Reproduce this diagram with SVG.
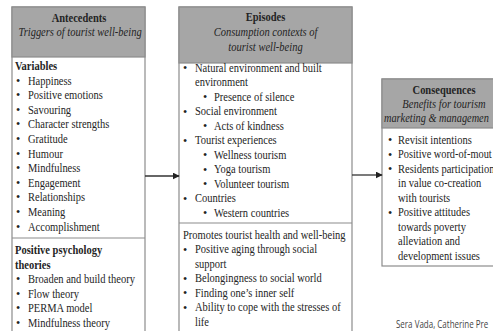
<svg xmlns="http://www.w3.org/2000/svg" width="493" height="331" viewBox="0 0 493 331">
<defs>
<style>
text{font-family:"Liberation Serif","Times New Roman",serif;font-size:12px;fill:#242424}
.l{transform-box:fill-box;transform-origin:0 50%;transform:scaleX(0.875)}
.c{text-anchor:middle;transform-box:fill-box;transform-origin:50% 50%;transform:scaleX(0.875)}
.b{font-weight:bold}
.i{font-style:italic}
.box{fill:#fff;stroke:#8c8c8c;stroke-width:1.2}
.hd{fill:#a6a6a6;stroke:#8c8c8c;stroke-width:1.2}
.sep{stroke:#8c8c8c;stroke-width:1.2}
.conn{stroke:#333;stroke-width:1.3;fill:none}
.cr{font-family:"Open Sans","Liberation Sans",sans-serif;font-size:10px;fill:#444;transform-box:fill-box;transform-origin:0 50%;transform:scaleX(0.8)}
.n{transform:scaleX(0.86)}
</style>
<marker id="ah" viewBox="0 0 10 10" refX="9" refY="5" markerWidth="7" markerHeight="7" markerUnits="userSpaceOnUse" orient="auto">
<path d="M0,0 L10,5 L0,10 Z" fill="#222"/>
</marker>
</defs>
<rect width="493" height="331" fill="#fff"/>

<g id="antecedents">
<rect class="box" x="12" y="7" width="133" height="330"/>
<rect class="hd" x="12" y="7" width="133" height="50"/>
<line class="sep" x1="12" y1="238" x2="145" y2="238"/>
<text class="c b" x="79" y="22">Antecedents</text>
<text class="c i" x="80" y="36">Triggers of tourist well-being</text>
<text class="l b" x="15" y="70">Variables</text>
<g>
<text x="16" y="84.6">•</text><text class="l" x="28" y="84.6">Happiness</text>
<text x="16" y="99.2">•</text><text class="l" x="28" y="99.2">Positive emotions</text>
<text x="16" y="113.8">•</text><text class="l" x="28" y="113.8">Savouring</text>
<text x="16" y="128.4">•</text><text class="l" x="28" y="128.4">Character strengths</text>
<text x="16" y="143">•</text><text class="l" x="28" y="143">Gratitude</text>
<text x="16" y="157.6">•</text><text class="l" x="28" y="157.6">Humour</text>
<text x="16" y="172.2">•</text><text class="l" x="28" y="172.2">Mindfulness</text>
<text x="16" y="186.8">•</text><text class="l" x="28" y="186.8">Engagement</text>
<text x="16" y="201.4">•</text><text class="l" x="28" y="201.4">Relationships</text>
<text x="16" y="216">•</text><text class="l" x="28" y="216">Meaning</text>
<text x="16" y="230.6">•</text><text class="l" x="28" y="230.6">Accomplishment</text>
</g>
<text class="l b" x="15" y="254">Positive psychology</text>
<text class="l b" x="15" y="268.6">theories</text>
<g>
<text x="16" y="283.2">•</text><text class="l" x="28" y="283.2">Broaden and build theory</text>
<text x="16" y="297.8">•</text><text class="l" x="28" y="297.8">Flow theory</text>
<text x="16" y="312.4">•</text><text class="l" x="28" y="312.4">PERMA model</text>
<text x="16" y="327">•</text><text class="l" x="28" y="327">Mindfulness theory</text>
</g>
</g>

<g id="episodes">
<rect class="box" x="179" y="7" width="173" height="330"/>
<rect class="hd" x="179" y="7" width="173" height="56"/>
<line class="sep" x1="179" y1="223" x2="352" y2="223"/>
<text class="c b" x="265.5" y="21">Episodes</text>
<text class="c i" x="265.5" y="36">Consumption contexts of</text>
<text class="c i" x="265.5" y="51">tourist well-being</text>
<text x="183" y="72">•</text><text class="l" x="195" y="72">Natural environment and built</text>
<text class="l" x="195" y="86.5">environment</text>
<text x="203" y="101">•</text><text class="l" x="214" y="101">Presence of silence</text>
<text x="183" y="115.5">•</text><text class="l" x="195" y="115.5">Social environment</text>
<text x="203" y="130">•</text><text class="l" x="214" y="130">Acts of kindness</text>
<text x="183" y="144.5">•</text><text class="l" x="195" y="144.5">Tourist experiences</text>
<text x="203" y="159">•</text><text class="l" x="214" y="159">Wellness tourism</text>
<text x="203" y="173.5">•</text><text class="l" x="214" y="173.5">Yoga tourism</text>
<text x="203" y="188">•</text><text class="l" x="214" y="188">Volunteer tourism</text>
<text x="183" y="202.5">•</text><text class="l" x="195" y="202.5">Countries</text>
<text x="203" y="217">•</text><text class="l" x="214" y="217">Western countries</text>
<text class="l" x="183" y="239">Promotes tourist health and well-being</text>
<text x="183" y="253.5">•</text><text class="l" x="195" y="253.5">Positive aging through social</text>
<text class="l" x="195" y="268">support</text>
<text x="183" y="282.5">•</text><text class="l" x="195" y="282.5">Belongingness to social world</text>
<text x="183" y="297">•</text><text class="l" x="195" y="297">Finding one’s inner self</text>
<text x="183" y="311.5">•</text><text class="l" x="195" y="311.5">Ability to cope with the stresses of</text>
<text class="l" x="195" y="326">life</text>
</g>

<g id="consequences">
<rect class="box" x="382" y="79" width="124" height="187"/>
<rect class="hd" x="382" y="79" width="124" height="49"/>
<text class="c b" x="444" y="94">Consequences</text>
<text class="c i" x="444" y="108">Benefits for tourism</text>
<text class="l i n" x="384" y="122">marketing &amp; managemen</text>
<text x="388" y="144">•</text><text class="l" x="398" y="144">Revisit intentions</text>
<text x="388" y="158.5">•</text><text class="l n" x="398" y="158.5">Positive word-of-mout</text>
<text x="388" y="173">•</text><text class="l" x="398" y="173">Residents participation</text>
<text class="l" x="398" y="187.5">in value co-creation</text>
<text class="l" x="398" y="202">with tourists</text>
<text x="388" y="216.5">•</text><text class="l" x="398" y="216.5">Positive attitudes</text>
<text class="l" x="398" y="231">towards poverty</text>
<text class="l" x="398" y="245.5">alleviation and</text>
<text class="l" x="398" y="260">development issues</text>
</g>

<g id="connectors">
<line class="conn" x1="145" y1="176" x2="179" y2="176" marker-end="url(#ah)"/>
<line class="conn" x1="352" y1="175" x2="382" y2="175" marker-end="url(#ah)"/>
</g>

<text class="cr" x="396" y="328">Sera Vada, Catherine Pre</text>
</svg>
